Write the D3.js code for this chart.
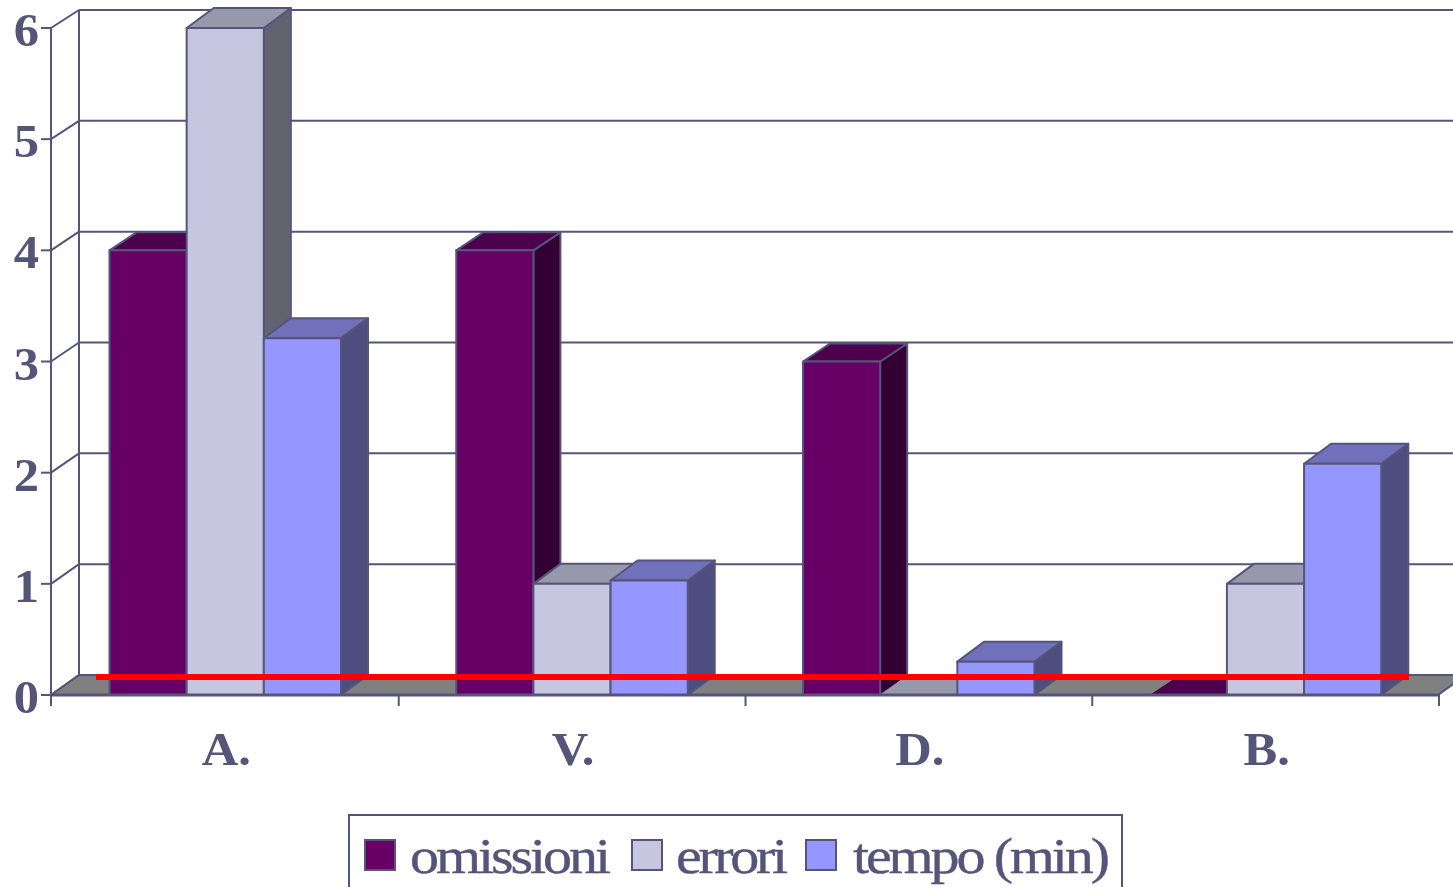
<!DOCTYPE html>
<html><head><meta charset="utf-8">
<script src="https://cdn.jsdelivr.net/npm/d3@7/dist/d3.min.js"></script>
<style>html,body{margin:0;padding:0;background:#fff;overflow:hidden}svg{display:block}</style>
</head><body><svg id="c" width="1453" height="887"></svg>
<script>
const categories = ["A.", "V.", "D.", "B."];
const seriesNames = ["omissioni", "errori", "tempo (min)"];
const omissioni = [4, 4, 3, 0];
const errori = [6, 1, 0, 1];
const tempo = [3.21, 1.03, 0.3, 2.08];
const yTicks = [0, 1, 2, 3, 4, 5, 6];
const seriesValues = [omissioni, errori, tempo];
const fronts = ["#660066", "#c6c6e0", "#9696ff"];
const tops = ["#4d004d", "#9898ac", "#7070bb"];
const sides = ["#330033", "#636370", "#4d4d80"];
const depthY = [18, 20, 20];
const ink = "#55557a";
const DX = 27;

const svg = d3.select("#c");
const x = d3.scaleBand().domain(categories).range([52, 1439]);
const inner = d3.scaleBand().domain(seriesNames).range([57.5, 289]);
const y = d3.scaleLinear().domain([0, 6]).range([695, 28]);
const yBack = d3.scaleLinear().domain([0, 6]).range([675, 10]);
const pts = a => a.map(p => p.join(",")).join(" ");

// floor
svg.append("polygon")
  .attr("points", pts([[51, y(0)], [79, yBack(0)], [1466, yBack(0)], [1438, y(0)]]))
  .attr("fill", "#808080").attr("stroke", ink).attr("stroke-width", 2);

// gridlines, wall and side-wall diagonals
svg.selectAll("line.grid").data(yTicks).join("line")
  .attr("x1", 79).attr("x2", 1453).attr("y1", d => yBack(d)).attr("y2", d => yBack(d))
  .attr("stroke", ink).attr("stroke-width", 2);
svg.selectAll("line.diag").data(yTicks).join("line")
  .attr("x1", 51).attr("x2", 79).attr("y1", d => y(d)).attr("y2", d => yBack(d))
  .attr("stroke", ink).attr("stroke-width", 2);
svg.append("line").attr("x1", 79).attr("x2", 79).attr("y1", yBack(6)).attr("y2", yBack(0)).attr("stroke", ink).attr("stroke-width", 2);

// bars
categories.forEach((c, ci) => {
  seriesNames.forEach((s, si) => {
    const v = seriesValues[si][ci];
    const DY = depthY[si];
    const x0 = x(c) + inner(s), x1 = x0 + inner.bandwidth();
    const yt = y(v), yb = y(0);
    const g = svg.append("g").attr("stroke", ink).attr("stroke-width", 2).attr("stroke-linejoin", "round");
    if (v > 0) {
      g.append("polygon").attr("points", pts([[x1, yb], [x1 + DX, yb - DY], [x1 + DX, yt - DY], [x1, yt]])).attr("fill", sides[si]);
    }
    g.append("polygon").attr("points", pts([[x0, yt], [x0 + DX, yt - DY], [x1 + DX, yt - DY], [x1, yt]])).attr("fill", tops[si])
      .attr("stroke", v > 0 ? ink : "none");
    if (v > 0) {
      g.append("rect").attr("x", x0).attr("y", yt).attr("width", x1 - x0).attr("height", yb - yt).attr("fill", fronts[si]);
    }
  });
});

// front axes
svg.append("line").attr("x1", 51).attr("x2", 1438).attr("y1", y(0)).attr("y2", y(0)).attr("stroke", ink).attr("stroke-width", 3);
svg.append("line").attr("x1", 51).attr("x2", 51).attr("y1", y(6)).attr("y2", 706).attr("stroke", ink).attr("stroke-width", 2);
svg.selectAll("line.yt").data(yTicks).join("line")
  .attr("x1", 41).attr("x2", 51).attr("y1", d => y(d)).attr("y2", d => y(d))
  .attr("stroke", ink).attr("stroke-width", 2);
svg.selectAll("line.xt").data(categories).join("line")
  .attr("x1", d => x(d) + x.bandwidth()).attr("x2", d => x(d) + x.bandwidth())
  .attr("y1", 695).attr("y2", 706).attr("stroke", ink).attr("stroke-width", 2);

// labels: slightly widened glyphs as in the reference
const font = "'Liberation Serif', serif";
function widen(sel, f) {
  sel.each(function () {
    const w = this.getComputedTextLength();
    d3.select(this).attr("textLength", w * f).attr("lengthAdjust", "spacingAndGlyphs");
  });
}
svg.selectAll("text.yl").data(yTicks).join("text")
  .attr("x", 39).attr("y", d => y(d) + 18).attr("text-anchor", "end")
  .attr("font-family", font).attr("font-weight", "bold").attr("font-size", 46).attr("fill", ink)
  .text(d => d).call(widen, 1.1);
svg.selectAll("text.xl").data(categories).join("text")
  .attr("x", d => x(d) + x.bandwidth() / 2 + 1).attr("y", 765).attr("text-anchor", "middle")
  .attr("font-family", font).attr("font-weight", "bold").attr("font-size", 46).attr("fill", ink)
  .text(d => d).call(widen, 1.1);

// red reference line
svg.append("line").attr("x1", 96).attr("x2", 1409).attr("y1", 677).attr("y2", 677).attr("stroke", "#ff0000").attr("stroke-width", 6);

// legend
svg.append("rect").attr("x", 349).attr("y", 815).attr("width", 773).attr("height", 90)
  .attr("fill", "#fff").attr("stroke", ink).attr("stroke-width", 2);
const swatchX = d3.scaleOrdinal().domain(seriesNames).range([365, 632, 806]);
const textX = d3.scaleOrdinal().domain(seriesNames).range([410, 676, 853]);
const textW = d3.scaleOrdinal().domain(seriesNames).range([201, 112, 257]);
const glyphStretch = 1.16;
seriesNames.forEach((s, i) => {
  svg.append("rect").attr("x", swatchX(s)).attr("y", 840).attr("width", 30).attr("height", 30)
    .attr("fill", fronts[i]).attr("stroke", ink).attr("stroke-width", 2);
  const t = svg.append("text")
    .attr("transform", `translate(${textX(s)},873) scale(${glyphStretch},1)`)
    .attr("font-family", font).attr("font-size", 50).attr("fill", ink)
    .attr("stroke", ink).attr("stroke-width", 0.4)
    .text(s);
  const natural = t.node().getComputedTextLength();
  t.attr("letter-spacing", (textW(s) / glyphStretch - natural) / (s.length - 1));
});
</script></body></html>
